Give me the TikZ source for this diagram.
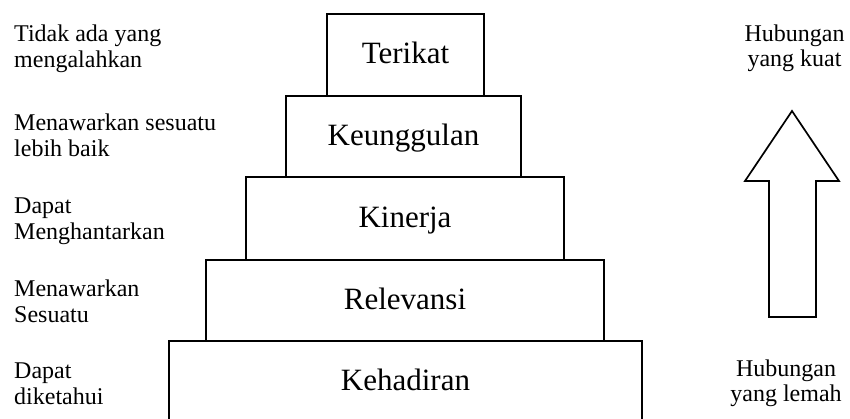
\documentclass[tikz,border=0pt]{standalone}
\usepackage{fontspec}
\setmainfont{Liberation Serif}
\newcommand\lstr{\rule[-7.8pt]{0pt}{26pt}}
\newcommand\rstr{\rule[-7.5pt]{0pt}{25pt}}
\begin{document}
\begin{tikzpicture}[x=1pt,y=-1pt,
  level/.style={draw, line width=2pt, inner sep=0pt, font=\fontsize{31}{36}\selectfont, text height=20pt, text depth=2pt},
  lab/.style={inner sep=0pt, font=\fontsize{24}{26}\selectfont, align=left, anchor=north west},
  rlab/.style={inner sep=0pt, font=\fontsize{24}{25}\selectfont, align=center, anchor=north},
  bigarrow/.style={draw, line width=1.7pt, line join=miter}]
\useasboundingbox (0,0) rectangle (850,419);
\fill[white] (0,0) rectangle (850,419);
% pyramid levels
\node[level, minimum width=157pt, minimum height=82pt] (terikat) at (405.5,55) {Terikat};
\node[level, minimum width=235pt, minimum height=81pt] (keunggulan) at (403.5,136.5) {Keunggulan};
\node[level, minimum width=318pt, minimum height=83pt] (kinerja) at (405,218.5) {Kinerja};
\node[level, minimum width=398pt, minimum height=81pt] (relevansi) at (405,300.5) {Relevansi};
\node[level, minimum width=473pt, minimum height=81pt] (kehadiran) at (405.5,381.5) {Kehadiran};
% left labels
\node[lab] (l1) at (14,23.5) {\lstr Tidak ada yang\\\lstr mengalahkan};
\node[lab] (l2) at (14,111.8) {\lstr Menawarkan sesuatu\\\lstr lebih baik};
\node[lab] (l3) at (14,195.1) {\lstr Dapat\\\lstr Menghantarkan};
\node[lab] (l4) at (14,277.8) {\lstr Menawarkan\\\lstr Sesuatu};
\node[lab] (l5) at (14,359.8) {\lstr Dapat\\\lstr diketahui};
% right labels
\node[rlab] (r1) at (794.5,24.2) {\rstr Hubungan\\\rstr yang kuat};
\node[rlab] (r2) at (786,359.2) {\rstr Hubungan\\\rstr yang lemah};
% block arrow
\draw[bigarrow] (792,111) -- (839,181) -- (816,181) -- (816,317) -- (769,317) -- (769,181) -- (745,181) -- cycle;
\end{tikzpicture}
\end{document}
